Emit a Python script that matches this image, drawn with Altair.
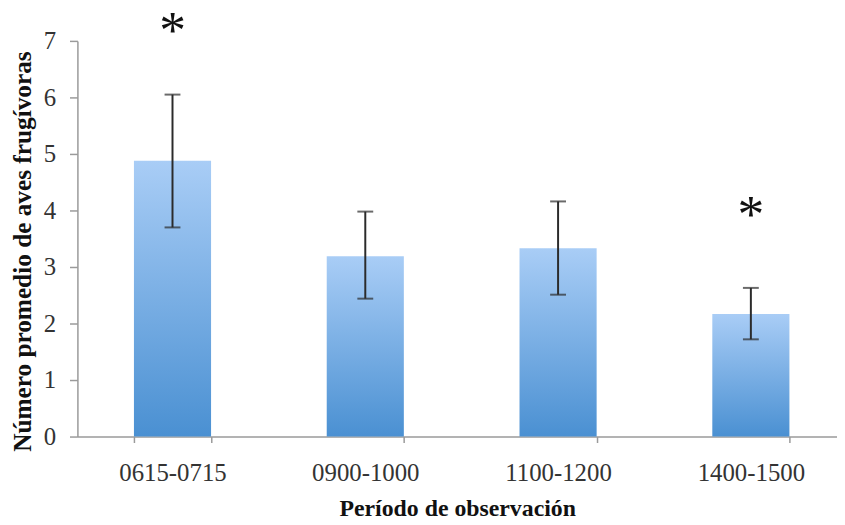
import altair as alt
import pandas as pd

categories = ["0615-0715", "0900-1000", "1100-1200", "1400-1500"]
means = [4.88, 3.19, 3.33, 2.17]
lower = [3.70, 2.44, 2.51, 1.72]
upper = [6.05, 3.98, 4.16, 2.63]

star_categories = ["0615-0715", "1400-1500"]
star_levels = [7.28, 4.03]

df = pd.DataFrame({"periodo": categories, "media": means, "inf": lower, "sup": upper})
stars = pd.DataFrame({"periodo": star_categories, "nivel": star_levels, "txt": ["*", "*"]})

FONT = "Liberation Serif"

x_enc = alt.X(
    "periodo:N",
    sort=categories,
    title="Período de observación",
    scale=alt.Scale(paddingInner=0.6, paddingOuter=0.27, align=0.543),
    axis=alt.Axis(labelAngle=0, tickBand="extent", tickSize=6, labelPadding=18,
                  titleFontSize=24, titleBaseline="alphabetic", titleY=80),
)

y_scale = alt.Scale(domain=[0, 7], nice=False)
y_axis = alt.Axis(values=[0, 1, 2, 3, 4, 5, 6, 7], format="d", grid=False,
                  tickSize=8, labelPadding=14, titleFontSize=25.5,
                  titleAngle=-90, titleBaseline="alphabetic", titleAlign="center",
                  titleX=-47, titleY=212)
Y_TITLE = "Número promedio de aves frugívoras"

bars = alt.Chart(df).mark_bar(
    color=alt.Gradient(
        gradient="linear",
        stops=[
            alt.GradientStop(color="#a9cdf6", offset=0),
            alt.GradientStop(color="#4a90d2", offset=1),
        ],
        x1=0, x2=0, y1=0, y2=1,
    )
).encode(
    x=x_enc,
    y=alt.Y("media:Q", scale=y_scale, title=Y_TITLE, axis=y_axis),
)

rules = alt.Chart(df).mark_rule(color="#2b2b2b", strokeWidth=2).encode(
    x=x_enc,
    y=alt.Y("inf:Q", scale=y_scale, title=Y_TITLE, axis=y_axis),
    y2="sup:Q",
)

caps_top = alt.Chart(df).mark_tick(color="#2b2b2b", thickness=2, size=16).encode(
    x=x_enc,
    y=alt.Y("sup:Q", scale=y_scale, title=Y_TITLE, axis=y_axis),
)
caps_bot = alt.Chart(df).mark_tick(color="#2b2b2b", thickness=2, size=16).encode(
    x=x_enc,
    y=alt.Y("inf:Q", scale=y_scale, title=Y_TITLE, axis=y_axis),
)

star_text = alt.Chart(stars).mark_text(
    font=FONT, fontSize=54, fontWeight="normal", color="#111111", baseline="middle", dy=7
).encode(
    x=x_enc,
    y=alt.Y("nivel:Q", scale=y_scale, title=Y_TITLE, axis=y_axis),
    text="txt:N",
)

chart = (
    alt.layer(bars, rules, caps_top, caps_bot, star_text)
    .properties(
        width=766,
        height=399,
        background="white",
        autosize=alt.AutoSizeParams(type="none"),
        padding={"left": 70, "top": 31, "right": 0, "bottom": 85},
    )
    .configure_view(stroke=None)
    .configure_axis(
        labelFont=FONT,
        labelFontSize=25,
        labelColor="#333333",
        titleFont=FONT,
        titleFontWeight="bold",
        titleColor="#111111",
        domainColor="#9a9a9a",
        domainWidth=1.5,
        tickColor="#9a9a9a",
        tickWidth=1.5,
    )
)

chart.save("out.html", embed_options={"renderer": "svg", "actions": False})
